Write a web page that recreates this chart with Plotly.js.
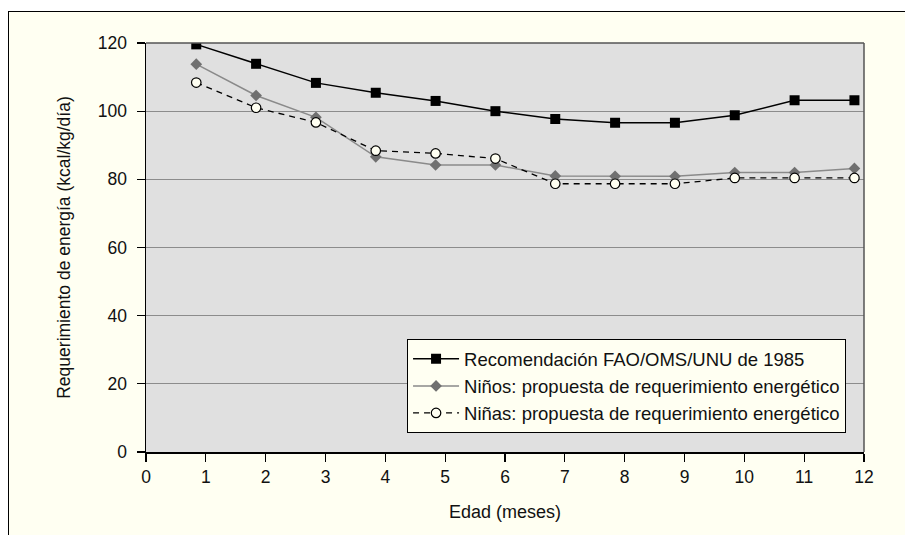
<!DOCTYPE html>
<html>
<head>
<meta charset="utf-8">
<script src="https://cdn.plot.ly/plotly-3.0.1.min.js"></script>
<style>
  html, body { margin: 0; padding: 0; background: #ffffff; }
  #frame { position: absolute; left: 8px; top: 11px; width: 897px; height: 524px;
           background: #fffff2; border-top: 1px solid #000; border-left: 1px solid #000; box-sizing: border-box; }
  #chart { position: absolute; left: 0; top: 0; width: 905px; height: 535px; }
</style>
</head>
<body>
<div id="frame"></div>
<div id="chart"></div>
<script>
const edad = [0.84, 1.84, 2.84, 3.84, 4.84, 5.84, 6.84, 7.84, 8.84, 9.84, 10.84, 11.84];
const fao1985 = [119.6, 113.9, 108.3, 105.4, 103.0, 100.0, 97.7, 96.6, 96.6, 98.8, 103.2, 103.2];
const ninos = [113.8, 104.6, 98.2, 86.6, 84.2, 84.2, 81.0, 80.9, 80.9, 82.0, 82.0, 83.2];
const ninas = [108.4, 101.0, 96.7, 88.4, 87.6, 86.1, 78.7, 78.7, 78.7, 80.4, 80.4, 80.4];
const seriesNames = [
  'Recomendación FAO/OMS/UNU de 1985',
  'Niños: propuesta de requerimiento energético',
  'Niñas: propuesta de requerimiento energético'
];
const xTicks = [0, 1, 2, 3, 4, 5, 6, 7, 8, 9, 10, 11, 12];
const yTicks = [0, 20, 40, 60, 80, 100, 120];

const font = 'Liberation Sans, Arial, Helvetica, sans-serif';
const txt = '#111111';

const traces = [
  { x: edad, y: fao1985, name: seriesNames[0], type: 'scatter', mode: 'lines+markers',
    line: { color: '#000000', width: 1.5 },
    marker: { symbol: 'square', size: 10, color: '#000000' } },
  { x: edad, y: ninos, name: seriesNames[1], type: 'scatter', mode: 'lines+markers',
    line: { color: '#8a8a8a', width: 1.5 },
    marker: { symbol: 'diamond', size: 9, color: '#707070' } },
  { x: edad, y: ninas, name: seriesNames[2], type: 'scatter', mode: 'lines+markers',
    line: { color: '#000000', width: 1.3, dash: '6px,5px' },
    marker: { symbol: 'circle', size: 9.5, color: '#fffff2', line: { color: '#000000', width: 1.2 } } }
];

const layout = {
  width: 905, height: 535,
  margin: { l: 146, r: 41, t: 42.5, b: 83 },
  paper_bgcolor: 'rgba(0,0,0,0)',
  plot_bgcolor: '#e0e0e0',
  font: { family: font, size: 17.5, color: txt },
  showlegend: true,
  legend: {
    x: 0.975, xanchor: 'right', y: 0.0457, yanchor: 'bottom',
    bgcolor: '#fffff2', bordercolor: '#000000', borderwidth: 1,
    font: { family: font, size: 18.5, color: txt },
    itemwidth: 46, tracegroupgap: 0
  },
  xaxis: {
    range: [0, 12], tickvals: xTicks, ticktext: xTicks.map(String),
    showgrid: false, zeroline: false,
    showline: true, linecolor: '#000000', linewidth: 1.5,
    ticks: 'outside', ticklen: 8, tickcolor: '#000000', tickwidth: 1.2,
    ticklabelstandoff: 0,
    tickfont: { family: font, size: 17.5, color: txt },
    title: { text: 'Edad (meses)', font: { family: font, size: 18, color: txt }, standoff: 20 },
    fixedrange: true
  },
  yaxis: {
    range: [0, 120], tickvals: yTicks, ticktext: yTicks.map(String),
    showgrid: true, gridcolor: '#8c8c8c', gridwidth: 1, zeroline: false,
    showline: true, linecolor: '#000000', linewidth: 1.5,
    ticks: 'outside', ticklen: 8, tickcolor: '#000000', tickwidth: 1.2,
    ticklabelstandoff: 6,
    tickfont: { family: font, size: 17.5, color: txt },
    title: { text: 'Requerimiento de energía (kcal/kg/día)', font: { family: font, size: 17.5, color: txt }, standoff: 22 },
    fixedrange: true
  },
  shapes: [
    { type: 'line', xref: 'paper', yref: 'paper', x0: 0, x1: 1, y0: 1, y1: 1, line: { color: '#555555', width: 1.5 } },
    { type: 'line', xref: 'paper', yref: 'paper', x0: 1, x1: 1, y0: 0, y1: 1, line: { color: '#555555', width: 1.5 } }
  ]
};

Plotly.newPlot('chart', traces, layout, { displayModeBar: false, staticPlot: true });
</script>
</body>
</html>
